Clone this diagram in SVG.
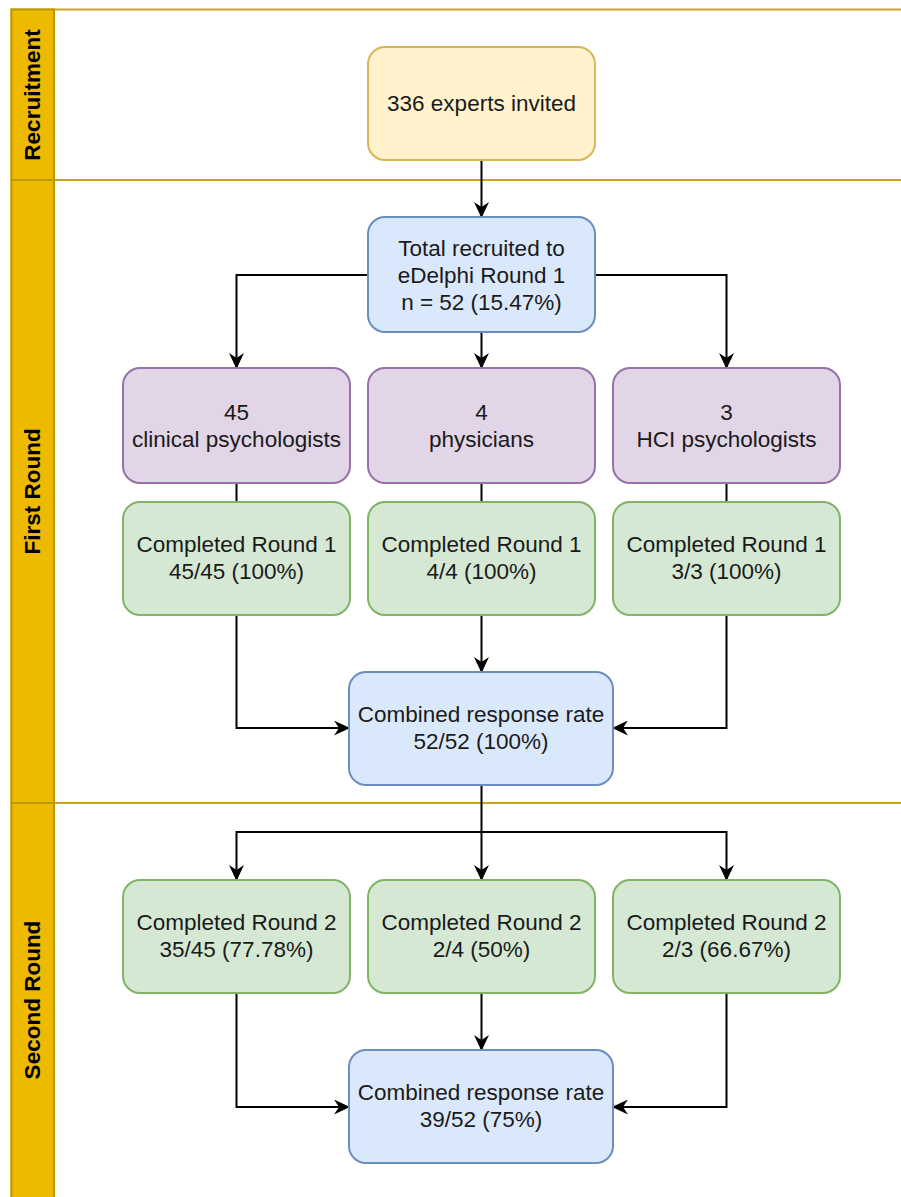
<svg xmlns="http://www.w3.org/2000/svg" width="901" height="1197" viewBox="0 0 901 1197">
<style>
.hdr{fill:#EDBA00;stroke:#BE9800;stroke-width:2}
.lane{fill:#FFFFFF;stroke:#C9A31C;stroke-width:2}
.ht{font-family:"Liberation Sans",Arial,sans-serif;font-size:22.5px;font-weight:bold;fill:#000;text-anchor:middle}
.t{font-family:"Liberation Sans",Arial,sans-serif;font-size:22.5px;fill:#1a1a1a;text-anchor:middle}
.y{fill:#FFF2CC;stroke:#D6B656;stroke-width:2}
.b{fill:#DAE8FC;stroke:#6C8EBF;stroke-width:2}
.p{fill:#E1D5E7;stroke:#9673A6;stroke-width:2}
.g{fill:#D5E8D4;stroke:#82B366;stroke-width:2}
.c{fill:none;stroke:#000;stroke-width:2}
.a{marker-end:url(#arr)}
</style>
<defs>
<marker id="arr" viewBox="0 0 16 15" refX="15" refY="7.5" markerWidth="16" markerHeight="15" markerUnits="userSpaceOnUse" orient="auto">
<path d="M0,0 L16,7.5 L0,15 L5,7.5 z" fill="#000"/>
</marker>
</defs>
<g id="swimlanes">
<rect class="lane" x="11.5" y="9.5" width="900" height="1200"/>
<line class="lane" x1="11.5" y1="180" x2="905" y2="180"/>
<line class="lane" x1="11.5" y1="803" x2="905" y2="803"/>
<rect class="hdr" x="11.5" y="9.5" width="42.5" height="170.5"/>
<rect class="hdr" x="11.5" y="180" width="42.5" height="623"/>
<rect class="hdr" x="11.5" y="803" width="42.5" height="400"/>
<text class="ht" transform="translate(40,95) rotate(-90)">Recruitment</text>
<text class="ht" transform="translate(40,491.5) rotate(-90)">First Round</text>
<text class="ht" transform="translate(40,1000) rotate(-90)">Second Round</text>
</g>
<g id="connectors">
<path class="c a" d="M481.5,160 V217"/>
<path class="c a" d="M368,275 H236.5 V368"/>
<path class="c a" d="M481.5,332 V368"/>
<path class="c a" d="M595,275 H726.5 V368"/>
<path class="c" d="M236.5,483 V502"/>
<path class="c" d="M481.5,483 V502"/>
<path class="c" d="M726.5,483 V502"/>
<path class="c a" d="M236.5,615 V728 H349"/>
<path class="c a" d="M481.5,615 V672"/>
<path class="c a" d="M726.5,615 V728 H613"/>
<path class="c a" d="M481.5,785 V880"/>
<path class="c a" d="M481.5,832 H236.5 V880"/>
<path class="c a" d="M481.5,832 H726.5 V880"/>
<path class="c a" d="M236.5,993 V1107 H349"/>
<path class="c a" d="M481.5,993 V1050"/>
<path class="c a" d="M726.5,993 V1107 H613"/>
</g>
<g id="invited">
<rect class="y" x="368" y="47" width="227" height="113" rx="17"/>
<text class="t" x="481.5" y="111">336 experts invited</text>
</g>
<g id="total">
<rect class="b" x="368" y="217" width="227" height="115" rx="17"/>
<text class="t" x="481.5" y="255.5">Total recruited to</text>
<text class="t" x="481.5" y="282.5">eDelphi Round 1</text>
<text class="t" x="481.5" y="309.5">n = 52 (15.47%)</text>
</g>
<g id="clinical">
<rect class="p" x="123" y="368" width="227" height="115" rx="17"/>
<text class="t" x="236.5" y="420">45</text>
<text class="t" x="236.5" y="447">clinical psychologists</text>
</g>
<g id="physicians">
<rect class="p" x="368" y="368" width="227" height="115" rx="17"/>
<text class="t" x="481.5" y="420">4</text>
<text class="t" x="481.5" y="447">physicians</text>
</g>
<g id="hci">
<rect class="p" x="613" y="368" width="227" height="115" rx="17"/>
<text class="t" x="726.5" y="420">3</text>
<text class="t" x="726.5" y="447">HCI psychologists</text>
</g>
<g id="r1clinical">
<rect class="g" x="123" y="502" width="227" height="113" rx="17"/>
<text class="t" x="236.5" y="552">Completed Round 1</text>
<text class="t" x="236.5" y="579">45/45 (100%)</text>
</g>
<g id="r1physicians">
<rect class="g" x="368" y="502" width="227" height="113" rx="17"/>
<text class="t" x="481.5" y="552">Completed Round 1</text>
<text class="t" x="481.5" y="579">4/4 (100%)</text>
</g>
<g id="r1hci">
<rect class="g" x="613" y="502" width="227" height="113" rx="17"/>
<text class="t" x="726.5" y="552">Completed Round 1</text>
<text class="t" x="726.5" y="579">3/3 (100%)</text>
</g>
<g id="combined1">
<rect class="b" x="349" y="672" width="264" height="113" rx="17"/>
<text class="t" x="481" y="722">Combined response rate</text>
<text class="t" x="481" y="749">52/52 (100%)</text>
</g>
<g id="r2clinical">
<rect class="g" x="123" y="880" width="227" height="113" rx="17"/>
<text class="t" x="236.5" y="930">Completed Round 2</text>
<text class="t" x="236.5" y="957">35/45 (77.78%)</text>
</g>
<g id="r2physicians">
<rect class="g" x="368" y="880" width="227" height="113" rx="17"/>
<text class="t" x="481.5" y="930">Completed Round 2</text>
<text class="t" x="481.5" y="957">2/4 (50%)</text>
</g>
<g id="r2hci">
<rect class="g" x="613" y="880" width="227" height="113" rx="17"/>
<text class="t" x="726.5" y="930">Completed Round 2</text>
<text class="t" x="726.5" y="957">2/3 (66.67%)</text>
</g>
<g id="combined2">
<rect class="b" x="349" y="1050" width="264" height="113" rx="17"/>
<text class="t" x="481" y="1100">Combined response rate</text>
<text class="t" x="481" y="1127">39/52 (75%)</text>
</g>
</svg>
